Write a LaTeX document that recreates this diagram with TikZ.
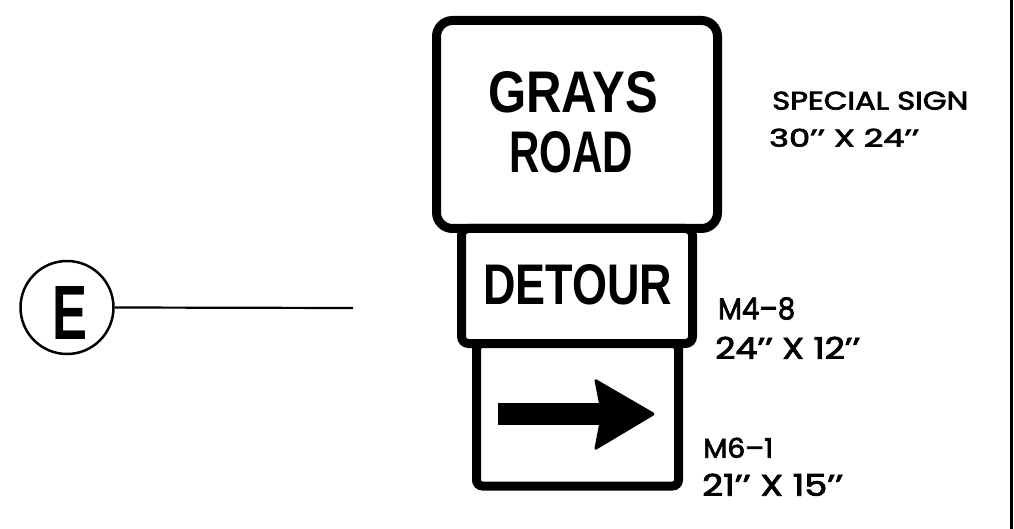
\documentclass[tikz,border=0pt]{standalone}
\usepackage{fontspec}
\setmainfont{Liberation Sans}
\newfontfamily\labfont{Poppins}[FakeBold=2.6]
\tikzset{
  signbox/.style={draw=black, line width=9pt, fill=white, inner sep=0pt, shape=rectangle},
  signtext/.style={inner sep=0pt, anchor=south west, font=\bfseries},
  labtext/.style={inner sep=0pt, anchor=south west, font=\labfont},
}
\newcommand{\fitbox}[3]{\resizebox{#1pt}{#2pt}{#3}}
\begin{document}
\begin{tikzpicture}[x=1pt,y=-1pt]
\useasboundingbox (0,0) rectangle (1014,529);
% right frame line
\coordinate (rt) at (1011.5,0);
\coordinate (rb) at (1011.5,529);
\draw[line width=2.5pt] (rt) -- (rb);
% signs
\node[signbox, rounded corners=16pt, minimum width=281pt, minimum height=208pt] (top) at (577,124.5) {};
\node[signbox, rounded corners=7pt, minimum width=231pt, minimum height=115pt] (detour) at (577,286) {};
\node[signbox, rounded corners=6pt, minimum width=202pt, minimum height=142.5pt] (arrow) at (577.5,414.75) {};
% sign texts
\node[signtext] (grays) at (488,113) {\fitbox{170}{41}{GRAYS}};
\node[signtext] (road) at (509,173) {\fitbox{124}{41}{ROAD}};
\node[signtext] (dt) at (483,305) {\fitbox{189}{40}{DETOUR}};
% arrow symbol
\fill (498,403) rectangle (602,425);
\fill[rounded corners=3pt] (594,378) -- (656,414) -- (594,451) -- (601,414) -- cycle;
% circle E
\node[draw, circle, line width=2.5pt, minimum size=93pt, inner sep=0pt] (ecirc) at (67,307.5) {};
\node[signtext] (eltr) at (52,340) {\fitbox{35}{53}{E}};
\coordinate (lend) at (353,308);
\draw[line width=2.2pt] (ecirc.east) -- (lend);
% labels
\node[labtext] (l1) at (772,110) {\fitbox{196}{18}{SPECIAL SIGN}};
\node[labtext] (l2) at (769,147) {\fitbox{150}{18}{30’’ X 24’’}};
\node[labtext] (l3) at (718,320) {\fitbox{77}{22}{M4–8}};
\node[labtext] (l4) at (715,359) {\fitbox{145}{22}{24’’ X 12’’}};
\node[labtext] (l5) at (703,458) {\fitbox{70}{20}{M6–1}};
\node[labtext] (l6) at (702,496) {\fitbox{141}{22}{21’’ X 15’’}};
\end{tikzpicture}
\end{document}
